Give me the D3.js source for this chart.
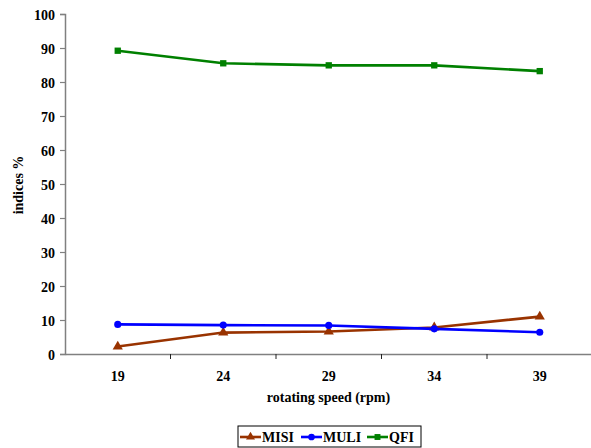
<!DOCTYPE html>
<html><head><meta charset="utf-8">
<script src="https://cdn.jsdelivr.net/npm/d3@7"></script>
<style>body{margin:0;background:#fff}svg text{font-family:"Liberation Serif","Times New Roman",serif;font-weight:bold;fill:#000}</style>
</head><body><svg id="c" width="591" height="448"></svg>
<script>
const categories = ["19","24","29","34","39"];
const misi = [2.2, 6.3, 6.6, 7.8, 11.0];
const muli = [8.7, 8.5, 8.4, 7.4, 6.4];
const qfi  = [89.2, 85.5, 84.9, 84.9, 83.2];
const yTicks = [0,10,20,30,40,50,60,70,80,90,100];
const seriesNames = ["MISI","MULI","QFI"];
const seriesColors = ["#993300","#0000FF","#008000"];
const seriesShapes = [d3.symbolTriangle, d3.symbolCircle, d3.symbolSquare];
const seriesValues = [misi, muli, qfi];

const svg = d3.select("#c");
const x = d3.scaleBand().domain(categories).range([65, 592.5]);
const y = d3.scaleLinear().domain([0,100]).range([354, 14]);

// y axis
const ya = svg.append("g").attr("transform","translate(65,0)")
  .call(d3.axisLeft(y).tickValues(yTicks).tickSize(5).tickPadding(5));
ya.select(".domain").attr("stroke","#808080").attr("stroke-width",1.5);
ya.selectAll(".tick line").attr("stroke","#808080").attr("stroke-width",1.2);
ya.selectAll("text").style("font-size","14px").attr("dy","0.36em");

// x axis
const xa = svg.append("g").attr("transform","translate(0,354)")
  .call(d3.axisBottom(x).tickSize(0).tickPadding(17));
xa.select(".domain").attr("stroke","#808080").attr("stroke-width",1.5);
xa.selectAll("text").style("font-size","14px");
// boundary ticks between categories
svg.append("g").selectAll("line").data(categories.slice(1).concat(["end"])).join("line")
  .attr("x1",(d,i)=>x(categories[i])+x.bandwidth()).attr("x2",(d,i)=>x(categories[i])+x.bandwidth())
  .attr("y1",354).attr("y2",359).attr("stroke","#222").attr("stroke-width",1);

// labels
svg.append("text").attr("transform","translate(23,185) rotate(-90)").attr("text-anchor","middle")
  .style("font-size","14px").text("indices %");
svg.append("text").attr("x",328.5).attr("y",402).attr("text-anchor","middle")
  .style("font-size","14px").text("rotating speed (rpm)");

// series
const line = d3.line().x((d,i)=>x(categories[i])+x.bandwidth()/2).y(d=>y(d));
seriesValues.forEach((vals,k)=>{
  svg.append("path").datum(vals).attr("d",line).attr("fill","none")
    .attr("stroke",seriesColors[k]).attr("stroke-width",2.6);
  svg.append("g").selectAll("path").data(vals).join("path")
    .attr("transform",(d,i)=>`translate(${x(categories[i])+x.bandwidth()/2},${y(d)})`)
    .attr("d",d3.symbol().type(seriesShapes[k]).size(k===0?45:k===1?40:40))
    .attr("fill",seriesColors[k]);
});

// legend
const lg = svg.append("g");
lg.append("rect").attr("x",238).attr("y",426).attr("width",183).attr("height",21)
  .attr("fill","#fff").attr("stroke","#000").attr("stroke-width",1);
const lx = [240, 301, 367];
seriesNames.forEach((n,k)=>{
  lg.append("line").attr("x1",lx[k]).attr("x2",lx[k]+21).attr("y1",437).attr("y2",437)
    .attr("stroke",seriesColors[k]).attr("stroke-width",2.6);
  lg.append("path").attr("transform",`translate(${lx[k]+10.5},437)`)
    .attr("d",d3.symbol().type(seriesShapes[k]).size(35)).attr("fill",seriesColors[k]);
  lg.append("text").attr("x",lx[k]+22).attr("y",442).style("font-size","14px").text(n);
});
</script></body></html>
